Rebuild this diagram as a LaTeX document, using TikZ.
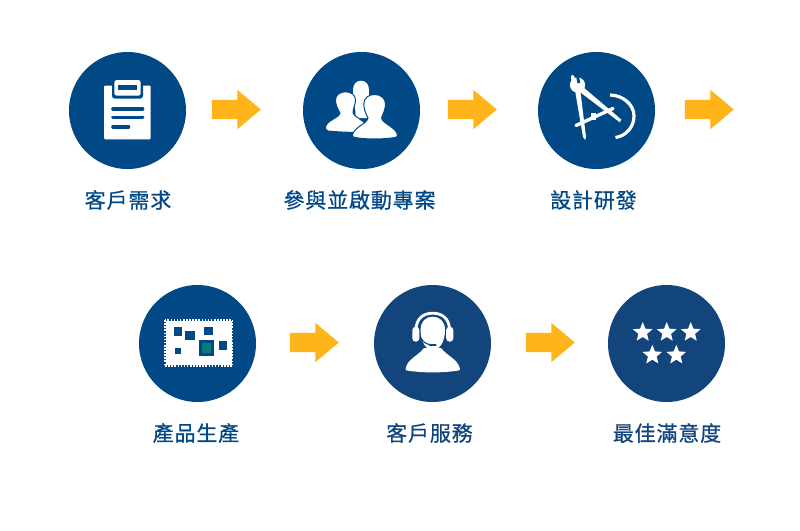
\documentclass[tikz,border=0pt]{standalone}
\usepackage{fontspec}
\setmainfont{Noto Sans CJK TC}[LetterSpace=4,FakeBold=0.7]
\usetikzlibrary{shapes.geometric,shapes.arrows}
\definecolor{topblue}{HTML}{004986}
\definecolor{lowblue}{HTML}{11457C}
\definecolor{amber}{HTML}{FFB519}
\definecolor{tealchip}{HTML}{0A7A7A}
\tikzset{
  x=1pt,y=-1pt,
  disc/.style={circle,minimum size=117pt,inner sep=0pt,fill=#1},
  blockarrow/.style={single arrow,fill=amber,inner sep=0pt,minimum width=39pt,minimum height=49pt,
    single arrow head extend=10pt,single arrow tip angle=80,shape border rotate=0},
  steplabel/.style={text=#1,font=\fontsize{21pt}{23pt}\selectfont,inner sep=0pt,anchor=center},
  starmark/.style={star,star points=5,star point ratio=2.25,fill=white,minimum size=20.6pt,inner sep=0pt},
  rule/.style={line width=3.6pt,line cap=round,draw=topblue},
  person/.style={fill=white,draw=topblue,line width=1pt},
  chipblock/.style={fill=topblue}
}
\newcommand{\shaftbox}{\rule{0pt}{19pt}}
\begin{document}
\begin{tikzpicture}
\useasboundingbox (0,0) rectangle (800,530);
\fill[white] (0,0) rectangle (800,530);
% discs
\node[disc=topblue] (d1) at (127.5,110.5) {};
\node[disc=topblue] (d2) at (361.5,110.5) {};
\node[disc=topblue] (d3) at (596.5,110.5) {};
\node[disc=topblue] (d4) at (197.5,343.5) {};
\node[disc=lowblue] (d5) at (432.5,343.5) {};
\node[disc=lowblue] (d6) at (666.5,343.5) {};
% arrows
\node[blockarrow] (a1) at (230.5,109.5) {\shaftbox};
\node[blockarrow] (a2) at (466.5,109.5) {\shaftbox};
\node[blockarrow] (a3) at (703.5,109.5) {\shaftbox};
\node[blockarrow] (a4) at (308.5,342.5) {\shaftbox};
\node[blockarrow] (a5) at (544.5,342.5) {\shaftbox};
% labels
\node[steplabel=topblue] (t1) at (128,200) {客戶需求};
\node[steplabel=topblue] (t2) at (359.5,200) {參與並啟動專案};
\node[steplabel=topblue] (t3) at (593.5,200) {設計研發};
\node[steplabel=topblue] (t4) at (196,433) {產品生產};
\node[steplabel=lowblue] (t5) at (429.5,433) {客戶服務};
\node[steplabel=lowblue] (t6) at (667,433) {最佳滿意度};
% clipboard
\fill[white,rounded corners=1.2pt] (104,85.5) rectangle (150.7,139.3);
\fill[topblue,rounded corners=3pt] (112,80) rectangle (143,98.7);
\fill[white,rounded corners=2.5pt] (114.3,80) rectangle (140.7,95.7);
\fill[topblue] (117.7,85) rectangle (137.3,90.3);
\draw[rule] (113,108.7) -- (142.6,108.7);
\draw[rule] (113,117.3) -- (142.6,117.3);
\draw[rule] (113,126.7) -- (128.6,126.7);
% people
\path[fill=white] (355.5,118) .. controls (356,108) and (353,100) .. (353,90) .. controls (353,84) and (356.5,80.7) .. (361,80.7)
  .. controls (365.5,80.7) and (369,84) .. (369,90) .. controls (369,100) and (367,108) .. (367,118) -- cycle;
\path[person] (325.5,127) .. controls (327,120) and (339,118) .. (340,113) .. controls (337,108) and (335.5,104) .. (335.5,100)
  .. controls (335.5,95) and (340,91.8) .. (345.5,91.8) .. controls (351,91.8) and (355.5,95) .. (355.5,100)
  .. controls (355.5,105) and (353,108) .. (353,113) .. controls (354,117) and (364,120) .. (366,125) -- (364,132.5)
  .. controls (350,132.5) and (338,132) .. (328,131) .. controls (326,130.5) and (325,128.5) .. (325.5,127) -- cycle;
\path[person] (352.5,135) .. controls (354,127) and (367,124) .. (368,118) .. controls (365.5,113) and (363.8,109) .. (363.8,104)
  .. controls (363.8,98) and (368.5,94.5) .. (374.5,94.5) .. controls (380.5,94.5) and (385.5,98) .. (385.5,104)
  .. controls (385.5,109) and (383.5,113) .. (381.5,118) .. controls (383,124) and (396,127) .. (397.5,135)
  .. controls (397.7,136.5) and (396.5,137.3) .. (395,137.5) .. controls (382,139.5) and (367,139.5) .. (355,137.5)
  .. controls (353.5,137.3) and (352.3,136.5) .. (352.5,135) -- cycle;
% compasses
\fill[white] (577.5,85) circle (7.6);
\draw[white,line width=3.6pt,line cap=round] (572.5,76.5) -- (574,83);
\draw[white,line width=3.2pt,line cap=round] (582.5,81.5) -- (581,84);
\draw[topblue,line width=2.8pt] (576.8,72) -- (578.8,83);
\fill[white] (574.6,88) -- (580,88) -- (586,137) -- (585,140) -- (583,137) -- cycle;
\fill[white] (583,87) -- (578.5,91) -- (619.8,122.3) -- (621.3,119.5) -- cycle;
\draw[white,line width=3.4pt,line cap=round] (576,125.5) -- (613,108.5);
\fill[white] (590.5,112.5) rectangle (595.5,120);
\draw[white,line width=3.2pt] (610,95) .. controls (622,95) and (634,104) .. (634,116) .. controls (634,127) and (626,136) .. (615.5,137.5);
% chip board
\fill[white] (165.5,321) rectangle (231.5,365.2);
\draw[white,line width=1.8pt,dash pattern=on 1.6pt off 1.5pt] (164.6,320.1) rectangle (232.4,366.1);
\fill[chipblock] (173.5,327.3) rectangle (182.3,335.7);
\fill[chipblock] (185,331) rectangle (195,340);
\fill[chipblock] (203.7,326.7) rectangle (213,335.3);
\fill[chipblock] (198.7,340.3) rectangle (213.7,355.7);
\fill[tealchip] (201.7,343.3) rectangle (211,352.7);
\fill[chipblock] (218.7,341.3) rectangle (227.3,350.3);
\fill[chipblock] (174.7,348.3) rectangle (180.7,354);
% agent
\draw[white,line width=2.8pt] (416,330) .. controls (416,318) and (424,313.2) .. (432.7,313.2) .. controls (441.5,313.2) and (449.5,318) .. (449.5,330);
\fill[white,rounded corners=3.4pt] (412.3,326.7) rectangle (419.3,341.7);
\fill[white,rounded corners=3.4pt] (446.2,326.7) rectangle (453.3,341.7);
\fill[white] (420.6,330) .. controls (420.6,321) and (426,316.7) .. (432.7,316.7) .. controls (439.5,316.7) and (445,321) .. (445,330)
  .. controls (445,341) and (440,350) .. (432.7,350) .. controls (425.5,350) and (420.6,341) .. (420.6,330) -- cycle;
\fill[white] (405.6,369) .. controls (407,359) and (418,356) .. (424,348) -- (441,348) .. controls (447,356) and (458,359) .. (460,369)
  .. controls (460.2,370) and (459,370.5) .. (458,370.6) .. controls (442,373) and (423,373) .. (407.5,370.6) .. controls (406,370.5) and (405.5,370) .. (405.6,369) -- cycle;
\draw[lowblue,line width=1.1pt] (421,338) .. controls (423,342) and (426,344) .. (430,344.5);
\draw[lowblue,line width=2.4pt,line cap=round] (430,344.7) -- (435.5,344.7);
% stars
\node[starmark] (s1) at (642.7,332.4) {};
\node[starmark] (s2) at (666.7,332.4) {};
\node[starmark] (s3) at (690.7,332.4) {};
\node[starmark] (s4) at (652.3,355.1) {};
\node[starmark] (s5) at (676.3,355.1) {};
\end{tikzpicture}
\end{document}
